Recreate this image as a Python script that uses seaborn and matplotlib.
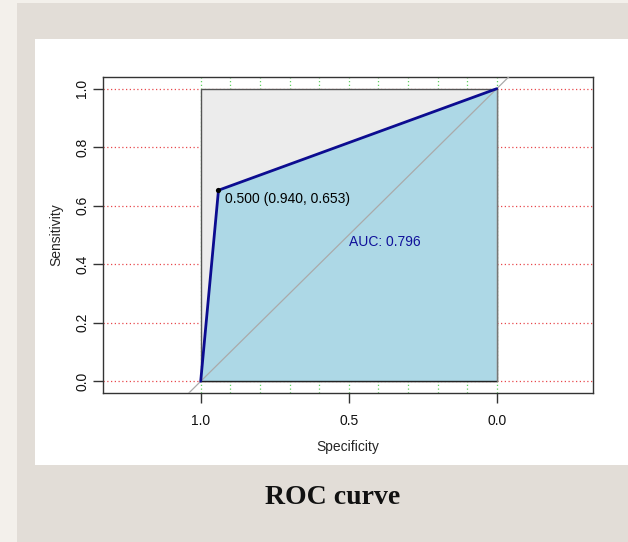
import matplotlib
matplotlib.use("Agg")
import matplotlib.pyplot as plt
import matplotlib.patches as mpatches
import seaborn as sns
import pandas as pd
import numpy as np

# ---- data ----
specificity = [1.0, 0.940, 0.0]
sensitivity = [0.0, 0.653, 1.0]
best_spec = [0.940]
best_sens = [0.653]
best_label = "0.500 (0.940, 0.653)"
auc_label = "AUC: 0.796"
y_ticks = [0.0, 0.2, 0.4, 0.6, 0.8, 1.0]
x_ticks = [1.0, 0.5, 0.0]
grid_v = [0.0, 0.1, 0.2, 0.3, 0.4, 0.5, 0.6, 0.7, 0.8, 0.9, 1.0]
caption = "ROC curve"

sns.set_style("white")
plt.rcParams['font.family'] = ['Liberation Sans', 'DejaVu Sans']

W, H = 628, 542
fig = plt.figure(figsize=(W / 100, H / 100), dpi=100)
fig.patch.set_facecolor('#f3f0eb')

def frect(x0, y0, x1, y1, color):
    fig.patches.append(mpatches.Rectangle((x0 / W, 1 - y1 / H), (x1 - x0) / W, (y1 - y0) / H,
                                          transform=fig.transFigure, facecolor=color,
                                          edgecolor='none', zorder=-10))

frect(17, 3, W, H, '#e2ddd7')
frect(35, 39, W, 465, '#ffffff')

ax = fig.add_axes([103 / W, 1 - 393 / H, (593 - 103) / W, (393 - 77) / H])
ax.set_facecolor('none')

df = pd.DataFrame({"Specificity": specificity, "Sensitivity": sensitivity})

# grid lines (behind the square)
for yv in y_ticks:
    ax.axhline(yv, color='#e8484c', lw=0.9, ls=(0, (1, 2)), zorder=0.5)
for xv in grid_v:
    ax.axvline(xv, color='#5fd05f', lw=0.9, ls=(0, (1, 2)), zorder=0.5)

# max AUC square
ax.add_patch(mpatches.Rectangle((0, 0), 1, 1, facecolor='#ececec', edgecolor='#555555',
                                lw=1.0, zorder=1))
# AUC polygon
poly_x = specificity + [0.0, 1.0]
poly_y = sensitivity + [0.0, 0.0]
ax.fill(poly_x, poly_y, color='#add8e6', zorder=2, lw=0)
ax.plot([1.0, 0.0], [0.0, 0.0], color='#222222', lw=1.0, zorder=2.5)
ax.plot([0.0, 0.0], [0.0, 1.0], color='#777777', lw=1.0, zorder=2.5)

# identity line
ax.plot([1.5, -0.5], [-0.5, 1.5], color='#aaaaaa', lw=0.9, zorder=3)

sns.lineplot(data=df, x="Specificity", y="Sensitivity", sort=False, color='#0c0c90',
             lw=2.0, ax=ax, zorder=4, estimator=None)
sns.scatterplot(x=best_spec, y=best_sens, color='black', s=14, ax=ax, zorder=5,
                edgecolor='black', linewidth=0)

ax.text(0.918, 0.622, best_label, ha='left', va='center', fontsize=10, color='black', zorder=6)
ax.text(0.5, 0.5, auc_label, ha='left', va='top', fontsize=10, color='#10109a', zorder=6)

ax.set_xlim(1.33, -0.325)
ax.set_ylim(-0.04, 1.04)
ax.set_xticks(x_ticks)
ax.set_xticklabels(["1.0", "0.5", "0.0"])
ax.set_yticks(y_ticks)
ax.set_yticklabels(["0.0", "0.2", "0.4", "0.6", "0.8", "1.0"], rotation=90, va='center')
ax.tick_params(axis='both', which='both', length=7, width=1, color='#333333',
               labelsize=10, labelcolor='#111111', direction='out',
               bottom=True, left=True)
ax.tick_params(axis='x', pad=8)
ax.tick_params(axis='y', pad=3)
for s in ax.spines.values():
    s.set_color('#333333')
    s.set_linewidth(1.0)
    s.set_visible(True)

ax.set_xlabel("Specificity", fontsize=10, labelpad=9)
ax.set_ylabel("Sensitivity", fontsize=10, labelpad=8.5)

fig.text(333 / W, 1 - 497 / H, caption, ha='center', va='center', fontsize=20,
         fontweight='bold', family=['Liberation Serif', 'DejaVu Serif'], color='#111111')

fig.savefig("out.png", dpi=100, facecolor=fig.get_facecolor())
